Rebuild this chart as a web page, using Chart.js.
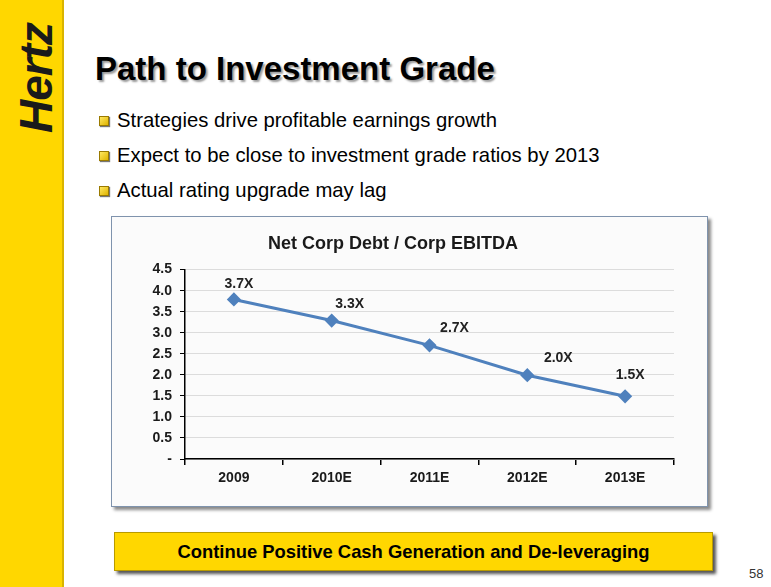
<!DOCTYPE html>
<html>
<head>
<meta charset="utf-8">
<script src="https://cdn.jsdelivr.net/npm/chart.js@4.4.1/dist/chart.umd.min.js"></script>
<style>
  html, body { margin: 0; padding: 0; }
  body { width: 771px; height: 587px; position: relative; background: #fff; overflow: hidden; font-family: "Liberation Sans", Arial, sans-serif; }
  #sidebar { position: absolute; left: 0; top: 0; width: 62px; height: 587px; background: #ffd700; border-right: 2px solid #d9b400; }
  #logo { position: absolute; left: 36px; top: 78px; transform: translate(-50%, -50%) rotate(-90deg); font: italic bold 46px "Liberation Sans", Arial, sans-serif; color: #1a1a1a; letter-spacing: -1px; white-space: nowrap; }
  #title { position: absolute; left: 95px; top: 50px; font-weight: bold; font-size: 33px; color: #000; text-shadow: 2px 2px 2px #9a9a9a; white-space: nowrap; }
  .bullet { position: absolute; left: 117px; font-size: 20.3px; color: #000; white-space: nowrap; }
  .bullet::before { content: ""; position: absolute; left: -18px; top: 7px; width: 8px; height: 8px; background: linear-gradient(135deg, #ffe860, #e0b400); border: 1px solid #9a7a00; box-shadow: 1px 1px 1px #777; }
  #chartBox { position: absolute; left: 111px; top: 216px; width: 595px; height: 289px; background: #fbfbfb; border: 1px solid #7f93ad; box-shadow: 3px 3px 3px #8a8a8a; }
  #footer { position: absolute; left: 114px; top: 532px; width: 597px; height: 37px; background: #ffd700; border: 1px solid #b89a00; box-shadow: 3px 3px 3px #555; text-align: center; line-height: 37px; font-weight: bold; font-size: 18.4px; color: #000; }
  #page { position: absolute; left: 749px; top: 566px; font-size: 13px; color: #333; }
</style>
</head>
<body>
<div id="sidebar"></div>
<div id="logo">Hertz</div>
<div id="title">Path to Investment Grade</div>
<div class="bullet" style="top:109px">Strategies drive profitable earnings growth</div>
<div class="bullet" style="top:144px">Expect to be close to investment grade ratios by 2013</div>
<div class="bullet" style="top:179px">Actual rating upgrade may lag</div>
<div id="chartBox"><canvas id="chart" width="595" height="289"></canvas></div>
<div id="footer">Continue Positive Cash Generation and De-leveraging</div>
<div id="page">58</div>

<script>
// data
const years = ['2009', '2010E', '2011E', '2012E', '2013E'];
const leverage = [3.79, 3.29, 2.70, 1.99, 1.49];
const leverageLabels = ['3.7X', '3.3X', '2.7X', '2.0X', '1.5X'];
const yTicks = [0, 0.5, 1.0, 1.5, 2.0, 2.5, 3.0, 3.5, 4.0, 4.5];

// where each value label sits relative to its point
const labelShift = [[5, -15], [18, -16], [25, -17], [31, -17], [5, -21]];

const FONT = '"Liberation Sans", Arial, sans-serif';

const valueLabels = {
  id: 'valueLabels',
  afterDatasetsDraw(chart) {
    const ctx = chart.ctx;
    const pts = chart.getDatasetMeta(0).data;
    ctx.save();
    ctx.font = 'bold 14px ' + FONT;
    ctx.fillStyle = '#222';
    ctx.textAlign = 'center';
    ctx.textBaseline = 'middle';
    pts.forEach((p, i) => {
      ctx.fillText(leverageLabels[i], p.x + labelShift[i][0], p.y + labelShift[i][1]);
    });
    ctx.restore();
  }
};

new Chart(document.getElementById('chart'), {
  type: 'line',
  data: {
    labels: years,
    datasets: [{
      data: leverage,
      borderColor: '#4f81bd',
      backgroundColor: '#4f81bd',
      borderWidth: 3,
      pointStyle: 'rectRot',
      pointRadius: 5,
      pointBorderColor: '#4f81bd',
      pointBackgroundColor: '#4f81bd',
      tension: 0
    }]
  },
  options: {
    responsive: false,
    animation: false,
    layout: { padding: { left: 0, right: 33, top: 0, bottom: 10 } },
    plugins: {
      legend: { display: false },
      tooltip: { enabled: false },
      title: {
        display: true,
        text: 'Net Corp Debt / Corp EBITDA',
        color: '#1a1a1a',
        font: { family: FONT, size: 18, weight: 'bold' },
        padding: { top: 16, bottom: 15 }
      }
    },
    scales: {
      x: {
        offset: true,
        afterFit(scale) { scale.height = 37; },
        grid: { offset: true, drawOnChartArea: false, drawTicks: true, tickLength: 6, color: '#000', tickColor: '#000', lineWidth: 1.5 },
        border: { display: true, color: '#000', width: 1.5 },
        ticks: { color: '#1a1a1a', padding: 5, font: { family: FONT, size: 14, weight: 'bold' } }
      },
      y: {
        min: 0,
        max: 4.5,
        afterFit(scale) { scale.width = 73; },
        afterBuildTicks(scale) { scale.ticks = yTicks.map(v => ({ value: v })); },
        grid: { color: '#dcdcdc', tickColor: '#000', tickLength: 5, lineWidth: 1 },
        border: { display: true, color: '#000', width: 1.5 },
        ticks: {
          color: '#1a1a1a',
          padding: 8,
          font: { family: FONT, size: 14, weight: 'bold' },
          callback: v => v === 0 ? '-' : v.toFixed(1)
        }
      }
    }
  },
  plugins: [valueLabels]
});
</script>
</body>
</html>
